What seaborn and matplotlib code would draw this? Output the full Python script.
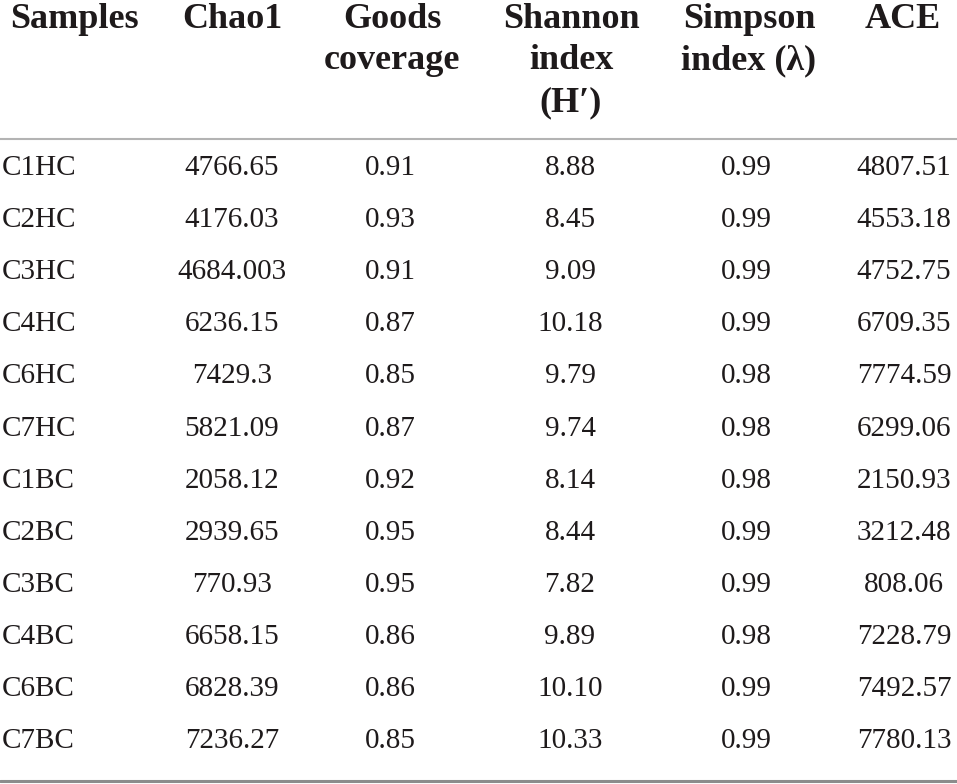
import matplotlib
matplotlib.use("Agg")
import matplotlib.pyplot as plt
import seaborn as sns
import pandas as pd

# ---- data ----
samples = ["C1HC", "C2HC", "C3HC", "C4HC", "C6HC", "C7HC",
           "C1BC", "C2BC", "C3BC", "C4BC", "C6BC", "C7BC"]
chao1 = ["4766.65", "4176.03", "4684.003", "6236.15", "7429.3", "5821.09",
         "2058.12", "2939.65", "770.93", "6658.15", "6828.39", "7236.27"]
goods = ["0.91", "0.93", "0.91", "0.87", "0.85", "0.87",
         "0.92", "0.95", "0.95", "0.86", "0.86", "0.85"]
shannon = ["8.88", "8.45", "9.09", "10.18", "9.79", "9.74",
           "8.14", "8.44", "7.82", "9.89", "10.10", "10.33"]
simpson = ["0.99", "0.99", "0.99", "0.99", "0.98", "0.98",
           "0.98", "0.99", "0.99", "0.98", "0.99", "0.99"]
ace = ["4807.51", "4553.18", "4752.75", "6709.35", "7774.59", "6299.06",
       "2150.93", "3212.48", "808.06", "7228.79", "7492.57", "7780.13"]
headers = [["Samples"], ["Chao1"], ["Goods", "coverage"],
           ["Shannon", "index", "(H\u2032)"], ["Simpson", "index (\u03bb)"], ["ACE"]]

df = pd.DataFrame({"Samples": samples, "Chao1": chao1, "Goods": goods,
                   "Shannon": shannon, "Simpson": simpson, "ACE": ace})

# ---- style ----
sns.set_theme(style="white")
plt.rcParams["font.family"] = ["Liberation Serif", "DejaVu Serif"]

W, H = 957, 784
fig = plt.figure(figsize=(W / 100, H / 100), dpi=100)
ax = fig.add_axes([0, 0, 1, 1])
ax.set_xlim(0, W)
ax.set_ylim(H, 0)
ax.axis("off")

txt = "#1e1a1b"
col_x = [2, 232, 390, 570, 746, 904]
head_x = [10, 232, 392, 571, 749, 903]
head_base = [28, 69, 111]
body_base0 = 175
row_h = 52.1

for j, lines in enumerate(headers):
    for k, line in enumerate(lines):
        ax.text(head_x[j], head_base[k], line, ha="left" if j == 0 else "center",
                va="baseline", fontsize=26, fontweight="bold", color=txt)

for i, row in enumerate(df.itertuples(index=False)):
    yb = body_base0 + i * row_h
    for j, val in enumerate(row):
        ax.text(col_x[j], yb, val, ha="left" if j == 0 else "center",
                va="baseline", fontsize=21, color=txt)

ax.axhline(139, color="#b3b3b3", lw=1.5)
ax.axhline(781, color="#8c8c8c", lw=2.2)

fig.savefig("out.png", dpi=100)
